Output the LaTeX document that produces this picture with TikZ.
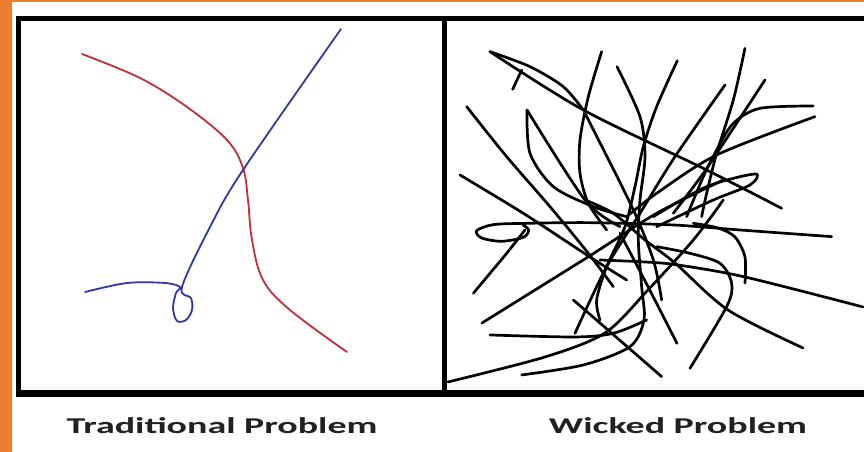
\documentclass[tikz,border=0pt]{standalone}
\usepackage{fontspec}
\setmainfont{Carlito}
\usepackage{xcolor}
\usetikzlibrary{positioning}
\definecolor{slideorange}{HTML}{ED7D31}
\definecolor{tradred}{HTML}{C0303A}
\definecolor{tradblue}{HTML}{3535A5}

\begin{document}
\begin{tikzpicture}[
    x=1pt, y=-1pt,
    band/.style={fill=slideorange, draw=none},
    framing/.style={draw=black, line width=5pt},
    calm/.style={line width=1.8pt, line cap=round, line join=round},
    scrib/.style={line width=2.7pt, line cap=round, line join=round, black},
    caption/.style={anchor=base, inner sep=0pt, font=\fontsize{22.6}{26}\selectfont\bfseries, text=black!87}
  ]
    \useasboundingbox (0,0) rectangle (864,452);
    \clip (0,0) rectangle (864,452);
    \fill[white] (0,0) rectangle (864,452);

    % Orange bands
    \path[band] (0,0) rectangle (12,452);
    \path[band] (0,0) rectangle (864,2.5);

    % Frame and divider
    \draw[framing] (18,19) -- (872,19);
    \draw[framing] (18,16.5) -- (18,396);
    \draw[framing, line width=7pt] (15.5,393) -- (872,393);
    \draw[framing] (444.5,16.5) -- (444.5,396);

    % Traditional problem
    \draw[calm, tradred] plot[smooth, tension=0.6] coordinates {
      (82,54) (140,78) (187,107) (227,140) (243,168) (248,200)
      (252,240) (263,280) (290,310) (347,352)};
    \draw[calm, tradblue] plot[smooth, tension=0.55] coordinates {
      (341,29) (243,170) (210,227) (182,287) (191,298) (192,310)
      (186,320) (177,321) (173,308) (176,293) (180,287) (165,283)
      (127,283) (85,292)};

    % Wicked problem
    \begin{scope}[shift={(440pt,0pt)}, x=0.3333pt, y=-0.3333pt]
      \draw[scrib] plot[smooth] coordinates {(150,155) (430,330) (800,510) (1025,625)};
      \draw[scrib] plot[smooth] coordinates {(150,155) (270,200) (370,260) (430,330)};
      \draw[scrib] (218,268) -- (245,210);
      \draw[scrib] plot[smooth] coordinates {(485,155) (445,290) (420,420) (420,520) (445,610) (500,690)};
      \draw[scrib] plot[smooth] coordinates {(531,200) (600,350) (615,470) (600,600) (595,720)
        (605,860) (612,960) (570,1040) (430,1095) (245,1125)};
      \draw[scrib] plot[smooth] coordinates {(712,182) (650,320) (610,440) (585,560) (555,680)
        (500,800) (470,900) (480,960)};
      \draw[scrib] plot[smooth] coordinates {(855,255) (705,470) (600,640) (500,800) (405,1000)};
      \draw[scrib] plot[smooth] coordinates {(915,145) (880,300) (830,460) (800,580) (785,650)};
      \draw[scrib] plot[smooth] coordinates {(975,240) (870,400) (790,520) (700,640)};
      \draw[scrib] plot[smooth] coordinates {(1120,318) (960,325) (880,370) (830,450) (790,530) (740,650)};
      \draw[scrib] plot[smooth] coordinates {(1125,350) (830,465) (650,580) (560,650)};
      \draw[scrib] plot[smooth] coordinates {(640,650) (800,560) (945,522) (930,555) (820,600) (650,680)};
      \draw[scrib] plot[smooth, tension=0.5] coordinates {(1175,710) (900,690) (700,675) (450,668)
        (260,670) (160,674) (110,692) (125,714) (185,724) (250,712) (266,690) (248,674)};
      \draw[scrib] plot[smooth] coordinates {(255,690) (200,760) (150,820) (100,880)};
      \draw[scrib] plot[smooth] coordinates {(126,969) (444,771) (650,640) (850,540)};
      \draw[scrib] plot[smooth] coordinates {(60,525) (250,640) (456,775) (560,840)};
      \draw[scrib] plot[smooth] coordinates {(540,700) (624,860) (711,1030)};
      \draw[scrib] plot[smooth] coordinates {(150,1005) (405,1011) (520,1000) (620,960)};
      \draw[scrib] plot[smooth] coordinates {(24,1146) (315,1071) (495,999) (624,870) (760,720) (850,600)};
      \draw[scrib] plot[smooth] coordinates {(1269,921) (915,831) (714,795) (615,786) (480,780)};
      \draw[scrib] plot[smooth] coordinates {(1089,1044) (864,930) (705,789) (615,720) (520,640) (435,600)};
      \draw[scrib] plot[smooth] coordinates {(261,330) (435,600) (540,680)};
      \draw[scrib] plot[smooth] coordinates {(261,330) (270,460) (340,560) (460,620) (560,650)};
      \draw[scrib] plot[smooth] coordinates {(750,1105) (860,920) (875,850) (840,790) (750,760) (650,740)};
      \draw[scrib] plot[smooth] coordinates {(915,849) (915,771) (885,711) (834,684) (760,670)};
      \draw[scrib] plot[smooth] coordinates {(80,320) (200,470) (330,620) (445,760) (520,860)};
      \draw[scrib] plot[smooth] coordinates {(435,340) (576,621) (640,780) (665,900)};
      \draw[scrib] plot[smooth] coordinates {(400,900) (504,990) (665,1130)};
    \end{scope}

    % Captions
    \node (tradlabel) [caption] at (222,433) {\scalebox{1.68}[1]{Traditional Problem}};
    \node (wickedlabel) [caption] at (678,433) {\scalebox{1.68}[1]{Wicked Problem}};

  \end{tikzpicture}
\end{document}
